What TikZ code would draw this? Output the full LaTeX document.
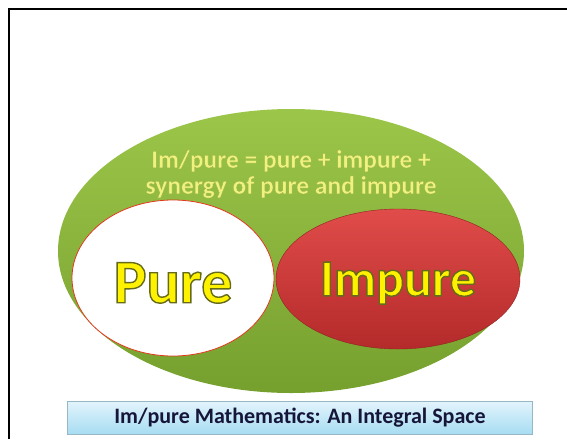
\documentclass[tikz,border=0pt]{standalone}
\usepackage{fontspec}
\setmainfont{Carlito}
\usetikzlibrary{shapes.geometric}

\definecolor{leafhi}{HTML}{9CC649}
\definecolor{leaflo}{HTML}{76A02E}
\definecolor{redhi}{HTML}{E04C4A}
\definecolor{redlo}{HTML}{B42A2A}
\definecolor{skyhi}{HTML}{E2F4FC}
\definecolor{skylo}{HTML}{A6DCF2}
\definecolor{paleyellow}{HTML}{F0F27E}
\definecolor{navy}{HTML}{16163A}

% stroked glyphs: #1 = rgb of the outline, #2 = width
\newcommand\rimtext[3]{\special{pdf:literal direct #1 RG #2 w 2 Tr}#3\special{pdf:literal direct 0 Tr}}

\begin{document}
\begin{tikzpicture}[x=1pt, y=-1pt, font=\bfseries,
    blob/.style={ellipse, inner sep=0pt},
    big/.style={font=\fontsize{#1}{#1}\selectfont\bfseries, text=yellow}]
  \useasboundingbox (0,0) rectangle (567,439);
  % frame runs off the right and bottom edge
  \draw[line width=1.6pt] (9,439) -- (9,9) -- (567,9);

  \node[blob, minimum width=466, minimum height=284, top color=leafhi, bottom color=leaflo] (space) at (291,251) {};
  \node[align=center, text=paleyellow, font=\fontsize{25.5}{26}\selectfont\bfseries] (sum) at (291,174)
    {\rimtext{0.62 0.7 0.3}{0.3}{Im/pure = pure + impure +}\\ \rimtext{0.62 0.7 0.3}{0.3}{synergy of pure and impure}};

  \node[blob, minimum width=202, minimum height=156, fill=white, draw=red!55!brown, line width=0.8pt,
        big=62, text height=50pt] (pure) at (173,278) {\rimtext{0.4 0.42 0.1}{1.4}{Pure}};
  \node[blob, minimum width=244, minimum height=140, top color=redhi, bottom color=redlo, draw=redlo!80!black,
        big=52, text height=42pt] (impure) at (398,279) {\rimtext{0.4 0.42 0.1}{1.4}{Impure}};

  \node[minimum width=465, minimum height=33, top color=skyhi, bottom color=skylo, draw=skylo!60!gray,
        text=navy, font=\fontsize{22}{22}\selectfont\bfseries] (caption) at (300,418)
    {Im/pure Mathematics: An Integral Space};
\end{tikzpicture}
\end{document}
